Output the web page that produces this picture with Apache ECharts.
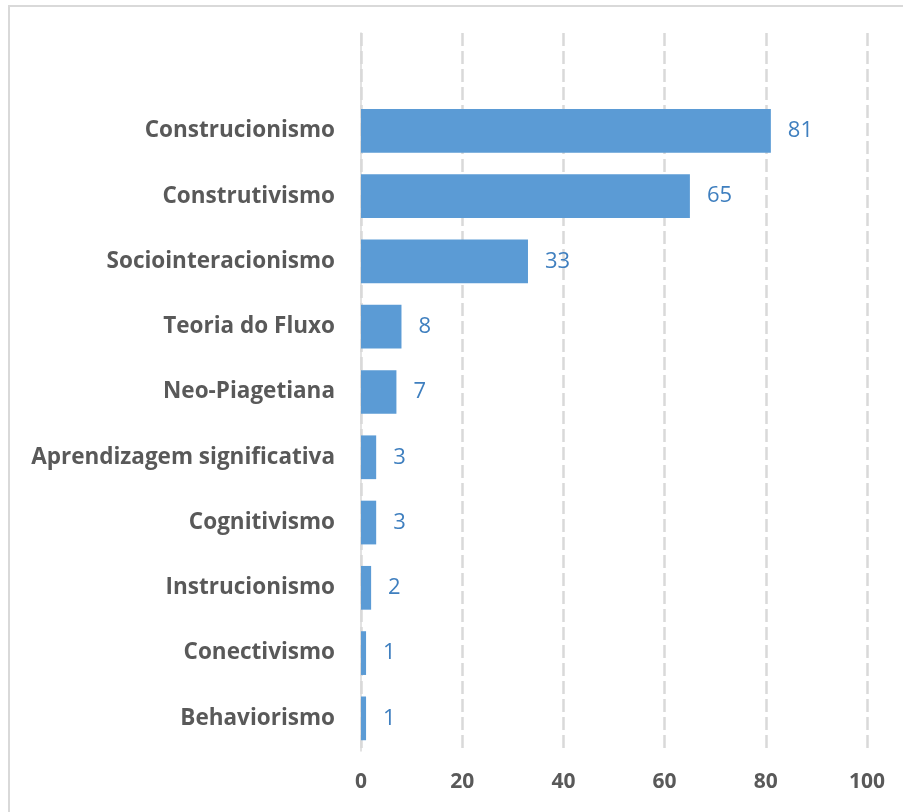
<!DOCTYPE html>
<html><head><meta charset="utf-8">
<script src="https://cdn.jsdelivr.net/npm/echarts@6/dist/echarts.min.js"></script>
<style>html,body{margin:0;padding:0;background:#fff}#c{width:903px;height:812px}</style>
</head><body><div id="c"></div>
<script>
const categories = ["Behaviorismo","Conectivismo","Instrucionismo","Cognitivismo","Aprendizagem significativa","Neo-Piagetiana","Teoria do Fluxo","Sociointeracionismo","Construtivismo","Construcionismo",""];
const values = [1,1,2,3,3,7,8,33,65,81,null];
const xTicks = [0,20,40,60,80,100];
const chart = echarts.init(document.getElementById('c'));
chart.setOption({
  animation:false,
  backgroundColor:'#fff',
  graphic:[{type:'rect',shape:{x:9,y:6,width:1000,height:1000},style:{fill:'none',stroke:'#d9d9d9',lineWidth:2},silent:true}],
  grid:{left:361,right:36,top:33,bottom:61,containLabel:false},
  xAxis:{type:'value',min:xTicks[0],max:xTicks[xTicks.length-1],interval:20,
    axisLine:{show:false},axisTick:{show:false},
    splitLine:{show:true,lineStyle:{color:'#d9d9d9',width:2.5,type:[13,5]}},
    axisLabel:{show:true,color:'#595959',fontFamily:'Open Sans',fontWeight:'bold',fontSize:21,margin:21,
      formatter:v=>xTicks.includes(v)?String(v):''}},
  yAxis:{type:'category',data:categories,
    axisLine:{show:true,lineStyle:{color:'#d9d9d9',width:1.5}},axisTick:{show:false},
    axisLabel:{color:'#595959',fontFamily:'Open Sans',fontWeight:'bold',fontSize:22.5,margin:26}},
  series:[{type:'bar',data:values,barWidth:'67%',itemStyle:{color:'#5b9bd5'},
    label:{show:true,position:'right',distance:17,color:'#3f7fbf',fontFamily:'Open Sans',fontSize:22,
      formatter:p=>p.value==null?'':String(p.value)}}]
});
</script></body></html>
